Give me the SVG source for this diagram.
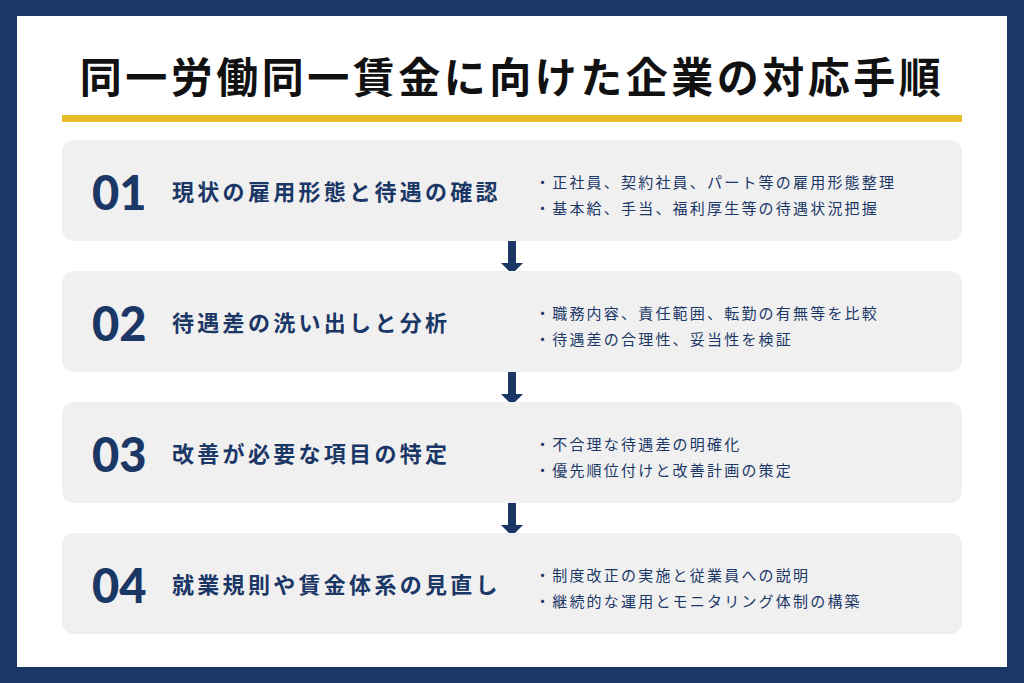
<svg xmlns="http://www.w3.org/2000/svg" width="1024" height="683" viewBox="0 0 1024 683">
<style>
.box{fill:#f0f0f1}
.num{font-family:"Lato","Noto Sans",sans-serif;font-weight:900;font-size:47px;fill:#1b3766}
.head{font-family:"Noto Sans CJK JP",sans-serif;font-weight:bold;font-size:22px;fill:#1b3766;letter-spacing:3.3px}
.item{font-family:"Noto Sans CJK JP",sans-serif;font-size:15px;fill:#1b3766;letter-spacing:2.2px}
.arr{fill:#1b3766}
</style>
<rect width="1024" height="683" fill="#1b3766"/>
<rect x="17" y="16" width="990" height="651" fill="#ffffff"/>
<text x="512" y="93" text-anchor="middle" font-family="Noto Sans CJK JP,sans-serif" font-weight="bold" font-size="42" letter-spacing="3.5" fill="#111">同一労働同一賃金に向けた企業の対応手順</text>
<rect x="62" y="115" width="900" height="7" fill="#e8bd2a"/>
<g id="connectors">
<path class="arr" d="M508 240h8v23h7l-11 11l-11-11h7z"/>
<path class="arr" d="M508 371h8v23h7l-11 11l-11-11h7z"/>
<path class="arr" d="M508 502h8v23h7l-11 11l-11-11h7z"/>
</g>
<g id="step1"><rect class="box" x="62" y="140" width="900" height="101" rx="12"/>
<text class="num" x="92" y="210">01</text><text class="head" x="172" y="200">現状の雇用形態と待遇の確認</text>
<text class="item" x="535" y="188">・正社員、契約社員、パート等の雇用形態整理</text><text class="item" x="535" y="214">・基本給、手当、福利厚生等の待遇状況把握</text></g>
<g id="step2"><rect class="box" x="62" y="271" width="900" height="101" rx="12"/>
<text class="num" x="92" y="341">02</text><text class="head" x="172" y="331">待遇差の洗い出しと分析</text>
<text class="item" x="535" y="319">・職務内容、責任範囲、転勤の有無等を比較</text><text class="item" x="535" y="345">・待遇差の合理性、妥当性を検証</text></g>
<g id="step3"><rect class="box" x="62" y="402" width="900" height="101" rx="12"/>
<text class="num" x="92" y="472">03</text><text class="head" x="172" y="462">改善が必要な項目の特定</text>
<text class="item" x="535" y="450">・不合理な待遇差の明確化</text><text class="item" x="535" y="476">・優先順位付けと改善計画の策定</text></g>
<g id="step4"><rect class="box" x="62" y="533" width="900" height="101" rx="12"/>
<text class="num" x="92" y="603">04</text><text class="head" x="172" y="593">就業規則や賃金体系の見直し</text>
<text class="item" x="535" y="581">・制度改正の実施と従業員への説明</text><text class="item" x="535" y="607">・継続的な運用とモニタリング体制の構築</text></g>
</svg>
